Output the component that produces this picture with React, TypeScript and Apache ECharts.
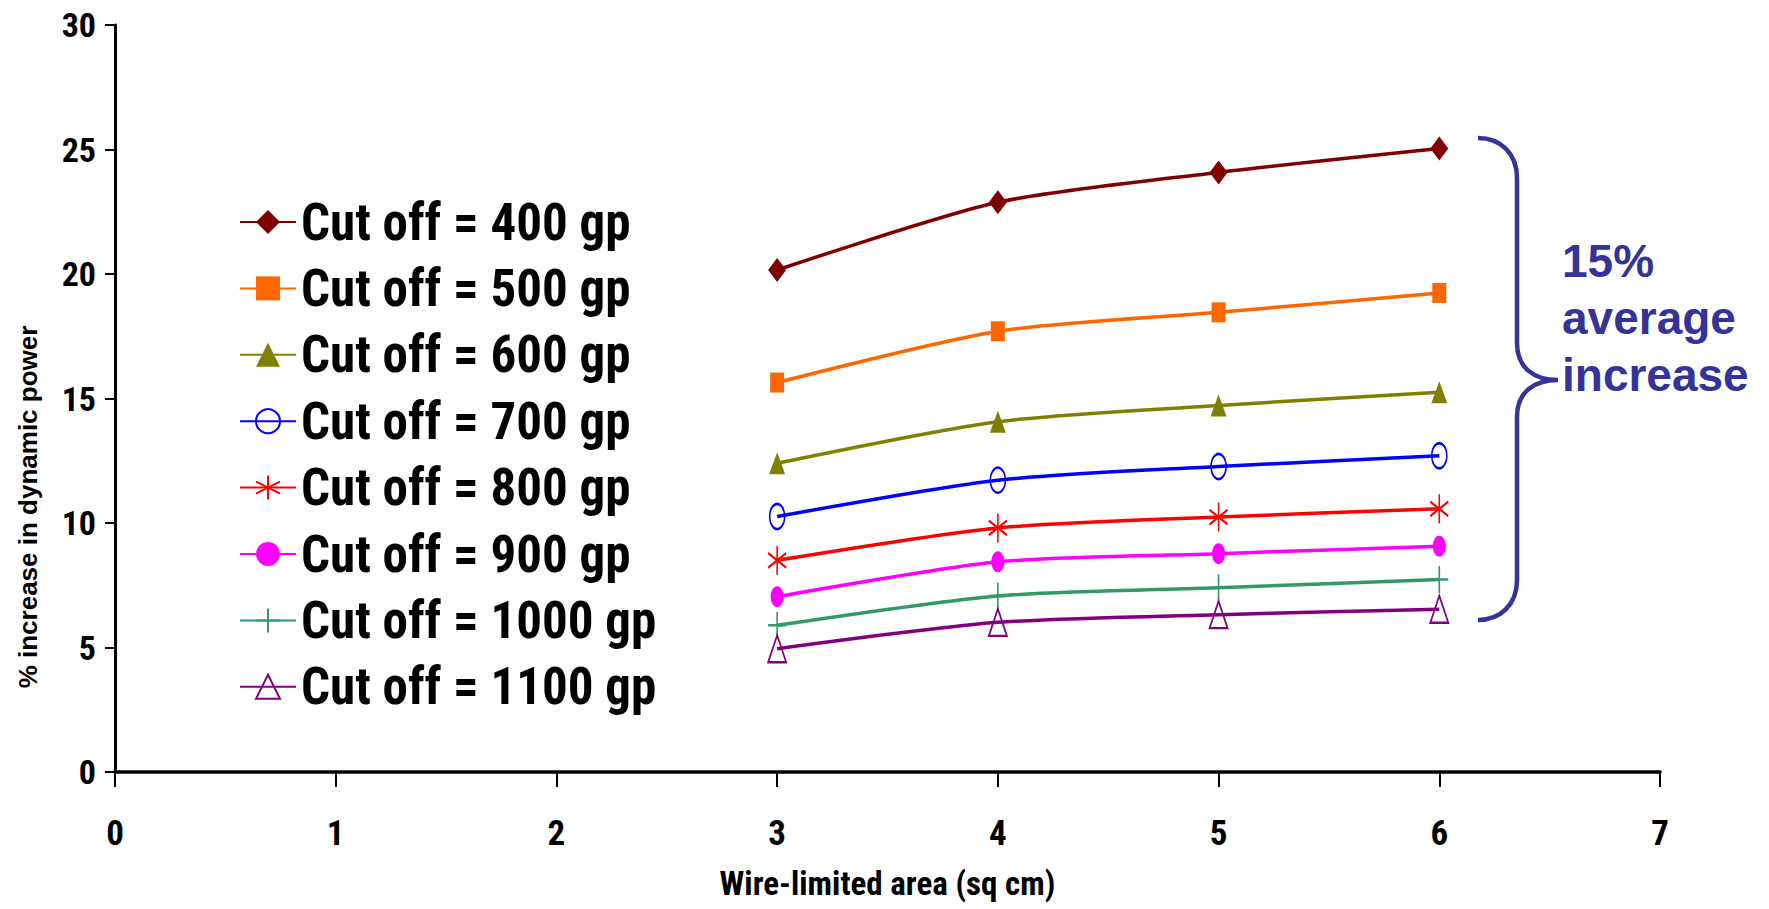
import React, { useEffect, useRef } from "react";
import * as echarts from "echarts";

const xValues = [3, 4, 5, 6];
const seriesNames = [
  "Cut off = 400 gp",
  "Cut off = 500 gp",
  "Cut off = 600 gp",
  "Cut off = 700 gp",
  "Cut off = 800 gp",
  "Cut off = 900 gp",
  "Cut off = 1000 gp",
  "Cut off = 1100 gp",
];
const cut400 = [20.16, 22.88, 24.08, 25.04];
const cut500 = [15.64, 17.7, 18.46, 19.24];
const cut600 = [12.4, 14.07, 14.72, 15.25];
const cut700 = [10.26, 11.72, 12.27, 12.7];
const cut800 = [8.5, 9.8, 10.24, 10.57];
const cut900 = [7.04, 8.44, 8.77, 9.07];
const cut1000 = [5.89, 7.07, 7.4, 7.73];
const cut1100 = [4.95, 6.01, 6.32, 6.54];
const allValues = [cut400, cut500, cut600, cut700, cut800, cut900, cut1000, cut1100];

const colors = ["#800000", "#FF6600", "#808000", "#0000FF", "#FF0000", "#FF00FF", "#339966", "#800080"];
const yTicks = [0, 5, 10, 15, 20, 25, 30];
const xTicks = [0, 1, 2, 3, 4, 5, 6, 7];

const NARROW = "Roboto Condensed";
const ARIAL = "Liberation Sans";

const markerDefs: any[] = [
  { symbol: "diamond", size: [18, 24], hollow: false },
  { symbol: "rect", size: [14, 20], hollow: false },
  { symbol: "triangle", size: [16, 22], hollow: false },
  { symbol: "circle", size: [15, 25], hollow: true },
  { symbol: "path://M0,-10L0,10M-8.66,-5L8.66,5M-8.66,5L8.66,-5", size: [18, 29], hollow: true },
  { symbol: "circle", size: [13, 21], hollow: false },
  { symbol: "path://M0,-10L0,10M-10,0L10,0", size: [18, 27], hollow: true },
  { symbol: "triangle", size: [18, 27], hollow: true },
];

const braceD =
  "M0,0 C22,0 39,15 39,40 L39,205 C39,230 56,242 80,242 C56,242 39,254 39,279 L39,442 C39,467 22,482 0,482";

let registered = false;

export default function App() {
  const ref = useRef<HTMLDivElement>(null);
  useEffect(() => {
    document.body.style.margin = "0";
    if (!registered) {
      echarts.graphic.registerShape("brace", echarts.graphic.extendPath(braceD, {}) as any);
      registered = true;
    }
    const chart = echarts.init(ref.current!, null, { renderer: "svg" });
    const series = seriesNames.map((name, i) => {
      const m = markerDefs[i];
      return {
        name,
        type: "line",
        data: xValues.map((x, j) => [x, allValues[i][j]]),
        smooth: 0.25,
        symbol: m.symbol,
        symbolSize: m.size,
        showSymbol: true,
        color: colors[i],
        lineStyle: { color: colors[i], width: 3.5 },
        itemStyle: m.hollow
          ? { color: "rgba(0,0,0,0)", borderColor: colors[i], borderWidth: 2 }
          : { color: colors[i], borderWidth: 0 },
        emphasis: { disabled: true },
        z: 2,
      };
    });
    chart.setOption({
      animation: false,
      backgroundColor: "#ffffff",
      grid: { left: 115, right: 109, top: 25, bottom: 137 },
      xAxis: {
        type: "value",
        min: 0,
        max: 7,
        interval: 1,
        name: "Wire-limited area (sq cm)",
        nameLocation: "middle",
        nameGap: 95,
        nameTextStyle: { fontFamily: NARROW, fontWeight: "bold", fontSize: 33, color: "#000" },
        axisLine: { show: true, onZero: false, lineStyle: { color: "#000", width: 3.5 } },
        axisTick: { show: true, length: 15, lineStyle: { color: "#000", width: 2 } },
        axisLabel: {
          margin: 44,
          fontFamily: NARROW,
          fontWeight: "bold",
          fontSize: 35,
          color: "#000",
          formatter: (v: number) => (xTicks.includes(v) ? String(v) : ""),
        },
        splitLine: { show: false },
      },
      yAxis: {
        type: "value",
        min: 0,
        max: 30,
        interval: 5,
        axisLine: { show: true, lineStyle: { color: "#000", width: 3 } },
        axisTick: { show: true, length: 10, lineStyle: { color: "#000", width: 2 } },
        axisLabel: {
          margin: 19,
          fontFamily: NARROW,
          fontWeight: "bold",
          fontSize: 34,
          color: "#000",
          formatter: (v: number) => (yTicks.includes(v) ? String(v) : ""),
        },
        splitLine: { show: false },
      },
      legend: {
        orient: "vertical",
        left: 234,
        top: 190,
        itemWidth: 56,
        itemHeight: 30,
        itemGap: 12.4,
        data: seriesNames,
        selectedMode: false,
        textStyle: {
          fontFamily: NARROW,
          fontWeight: "bold",
          fontSize: 51,
          lineHeight: 54,
          color: "#000",
        },
      },
      graphic: [
        {
          type: "text",
          x: 28,
          y: 507,
          rotation: Math.PI / 2,
          style: {
            text: "% increase in dynamic power",
            fontFamily: ARIAL,
            fontWeight: "bold",
            fontSize: 26,
            fill: "#000",
            align: "center",
            verticalAlign: "middle",
          },
        },
        {
          type: "brace",
          x: 1478,
          y: 138,
          style: { fill: "none", stroke: "#333399", lineWidth: 4.5 },
        },
        {
          type: "text",
          x: 1562,
          y: 232,
          style: {
            text: "15%\naverage\nincrease",
            fontFamily: ARIAL,
            fontWeight: "bold",
            fontSize: 46,
            lineHeight: 57,
            fill: "#333399",
            align: "left",
            verticalAlign: "top",
          },
        },
      ],
      series,
    });
    return () => chart.dispose();
  }, []);
  return <div ref={ref} style={{ width: 1769, height: 909 }} />;
}
